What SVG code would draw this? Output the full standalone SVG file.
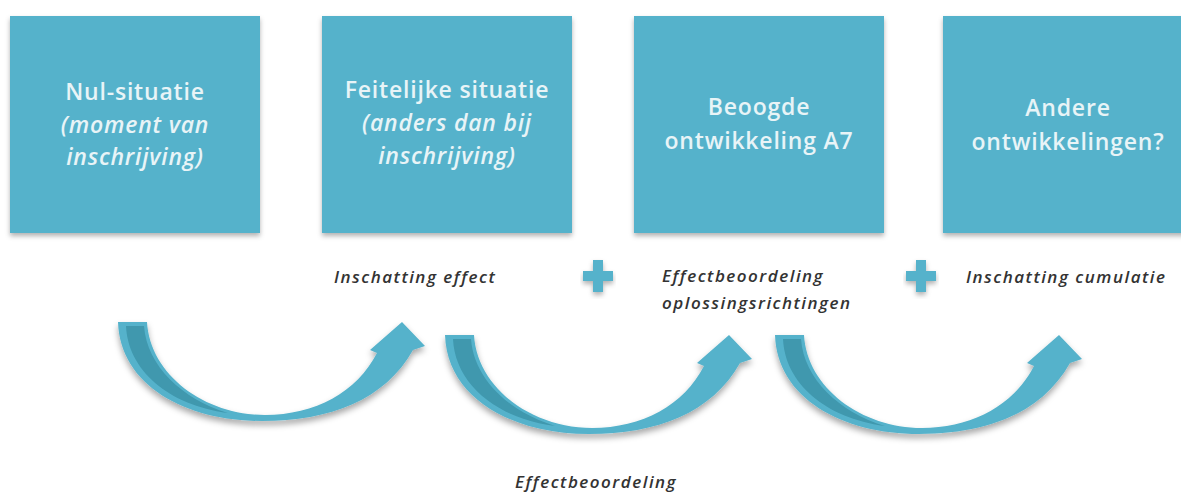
<svg xmlns="http://www.w3.org/2000/svg" width="1181" height="495" viewBox="0 0 1181 495">
  <defs>
    <filter id="sh" x="-10%" y="-10%" width="120%" height="130%">
      <feDropShadow dx="0" dy="3" stdDeviation="2.5" flood-color="#000" flood-opacity="0.3"/>
    </filter>
    <filter id="ash" x="-10%" y="-10%" width="120%" height="140%">
      <feDropShadow dx="0" dy="4" stdDeviation="3" flood-color="#000" flood-opacity="0.35"/>
    </filter>
    <path id="arrow" d="M 118 322 L 147 322 C 150 375, 205 415, 265 415 C 315 415, 357 392, 377 353 L 370 350 L 402 322 L 425 346 L 413 350 C 385 400, 330 421, 262 421 C 185 421, 120 385, 118 322 Z"/>
    <path id="arrowDark" d="M 126 326 L 144 326 C 147 366, 182 399, 228 413 C 168 405, 128 370, 126 326 Z"/>
  </defs>
  <style>
    .box { fill: #55b2cb; filter: url(#sh); }
    .bt { font-family: "Open Sans", "DejaVu Sans", sans-serif; font-size: 23px; font-weight: 600; fill: #e8f4f7; text-anchor: middle; letter-spacing: 0.8px; }
    .it { font-style: italic; }
    .lbl { font-family: "Open Sans", "DejaVu Sans", sans-serif; font-size: 17px; font-weight: 600; font-style: italic; fill: #333333; letter-spacing: 1.5px; }
    .arr { fill: #55b2cb; }
    .dk { fill: #3f98ae; }
    .plus { fill: #55b2cb; }
  </style>
  <rect width="1181" height="495" fill="#ffffff"/>

  <g id="node-nul">
    <rect class="box" x="10" y="16" width="250" height="217"/>
    <text class="bt" x="135" y="100">Nul-situatie</text>
    <text class="bt it" x="135" y="133">(moment van</text>
    <text class="bt it" x="135" y="165">inschrijving)</text>
  </g>
  <g id="node-feitelijk">
    <rect class="box" x="322" y="16" width="250" height="217"/>
    <text class="bt" x="447" y="98">Feitelijke situatie</text>
    <text class="bt it" x="447" y="131">(anders dan bij</text>
    <text class="bt it" x="447" y="164">inschrijving)</text>
  </g>
  <g id="node-beoogd">
    <rect class="box" x="634" y="16" width="250" height="217"/>
    <text class="bt" x="759" y="115">Beoogde</text>
    <text class="bt" x="759" y="149">ontwikkeling A7</text>
  </g>
  <g id="node-andere">
    <rect class="box" x="943" y="16" width="260" height="217"/>
    <text class="bt" x="1068" y="116">Andere</text>
    <text class="bt" x="1068" y="150">ontwikkelingen?</text>
  </g>

  <g id="connectors">
    <g filter="url(#ash)">
      <use href="#arrow" class="arr"/>
      <use href="#arrowDark" class="dk"/>
    </g>
    <g filter="url(#ash)" transform="translate(327,13)">
      <use href="#arrow" class="arr"/>
      <use href="#arrowDark" class="dk"/>
    </g>
    <g filter="url(#ash)" transform="translate(657,13)">
      <use href="#arrow" class="arr"/>
      <use href="#arrowDark" class="dk"/>
    </g>
  </g>

  <g id="plus1" filter="url(#sh)">
    <rect class="plus" x="593" y="260" width="10" height="32"/>
    <rect class="plus" x="583" y="271" width="30" height="10"/>
  </g>
  <g id="plus2" filter="url(#sh)">
    <rect class="plus" x="916" y="260" width="10" height="32"/>
    <rect class="plus" x="906" y="271" width="30" height="10"/>
  </g>

  <g id="labels">
    <text class="lbl" x="334" y="283">Inschatting effect</text>
    <text class="lbl" x="662" y="282">Effectbeoordeling</text>
    <text class="lbl" x="662" y="309">oplossingsrichtingen</text>
    <text class="lbl" x="966" y="283">Inschatting cumulatie</text>
    <text class="lbl" x="515" y="488">Effectbeoordeling</text>
  </g>
</svg>
